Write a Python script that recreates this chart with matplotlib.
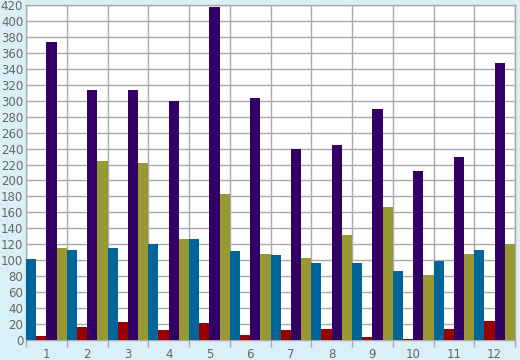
import matplotlib
matplotlib.use('Agg')
import matplotlib.pyplot as plt
import numpy as np

months = ['1', '2', '3', '4', '5', '6', '7', '8', '9', '10', '11', '12']
blue_vals = [102, 113, 115, 120, 127, 111, 106, 96, 96, 86, 99, 113]
red_vals = [5, 16, 22, 13, 21, 6, 12, 14, 4, 1, 14, 24]
purple_vals = [374, 314, 314, 300, 417, 304, 240, 244, 290, 212, 230, 347]
olive_vals = [115, 224, 222, 127, 183, 108, 103, 132, 167, 81, 108, 120]

series = [blue_vals, red_vals, purple_vals, olive_vals]
colors = ['#006699', '#990000', '#330066', '#999933']

bg = '#d9f0f7'
grid_c = '#aaaaaa'
text_c = '#666666'

fig = plt.figure(figsize=(5.2, 3.6), dpi=100, facecolor=bg)
ax = fig.add_axes([26 / 520, 20 / 360, 489 / 520, 335 / 360])
ax.set_facecolor('white')

x = np.arange(len(months))
w = 0.25
for i, (vals, c) in enumerate(zip(series, colors)):
    ax.bar(x - 0.375 + i * w, vals, width=w, color=c, linewidth=0, zorder=3)

ax.set_xlim(-0.5, len(months) - 0.5)
ax.set_ylim(0, 420)
ax.set_yticks(np.arange(0, 421, 20))
ax.set_xticks(x)
ax.set_xticklabels(months)
ax.set_xticks(np.arange(-0.5, len(months), 1), minor=True)

ax.tick_params(axis='x', which='major', length=0, pad=6, labelsize=8.5, labelcolor=text_c)
ax.tick_params(axis='x', which='minor', length=5, width=1, color=grid_c)
ax.tick_params(axis='y', length=0, pad=2, labelsize=8.5, labelcolor=text_c)

ax.grid(True, axis='y', which='major', color=grid_c, linewidth=1, zorder=1)
ax.grid(True, axis='x', which='minor', color=grid_c, linewidth=1, zorder=1)

for s in ax.spines.values():
    s.set_color(grid_c)
    s.set_linewidth(1)

fig.savefig('out.png', dpi=100, facecolor=bg)
